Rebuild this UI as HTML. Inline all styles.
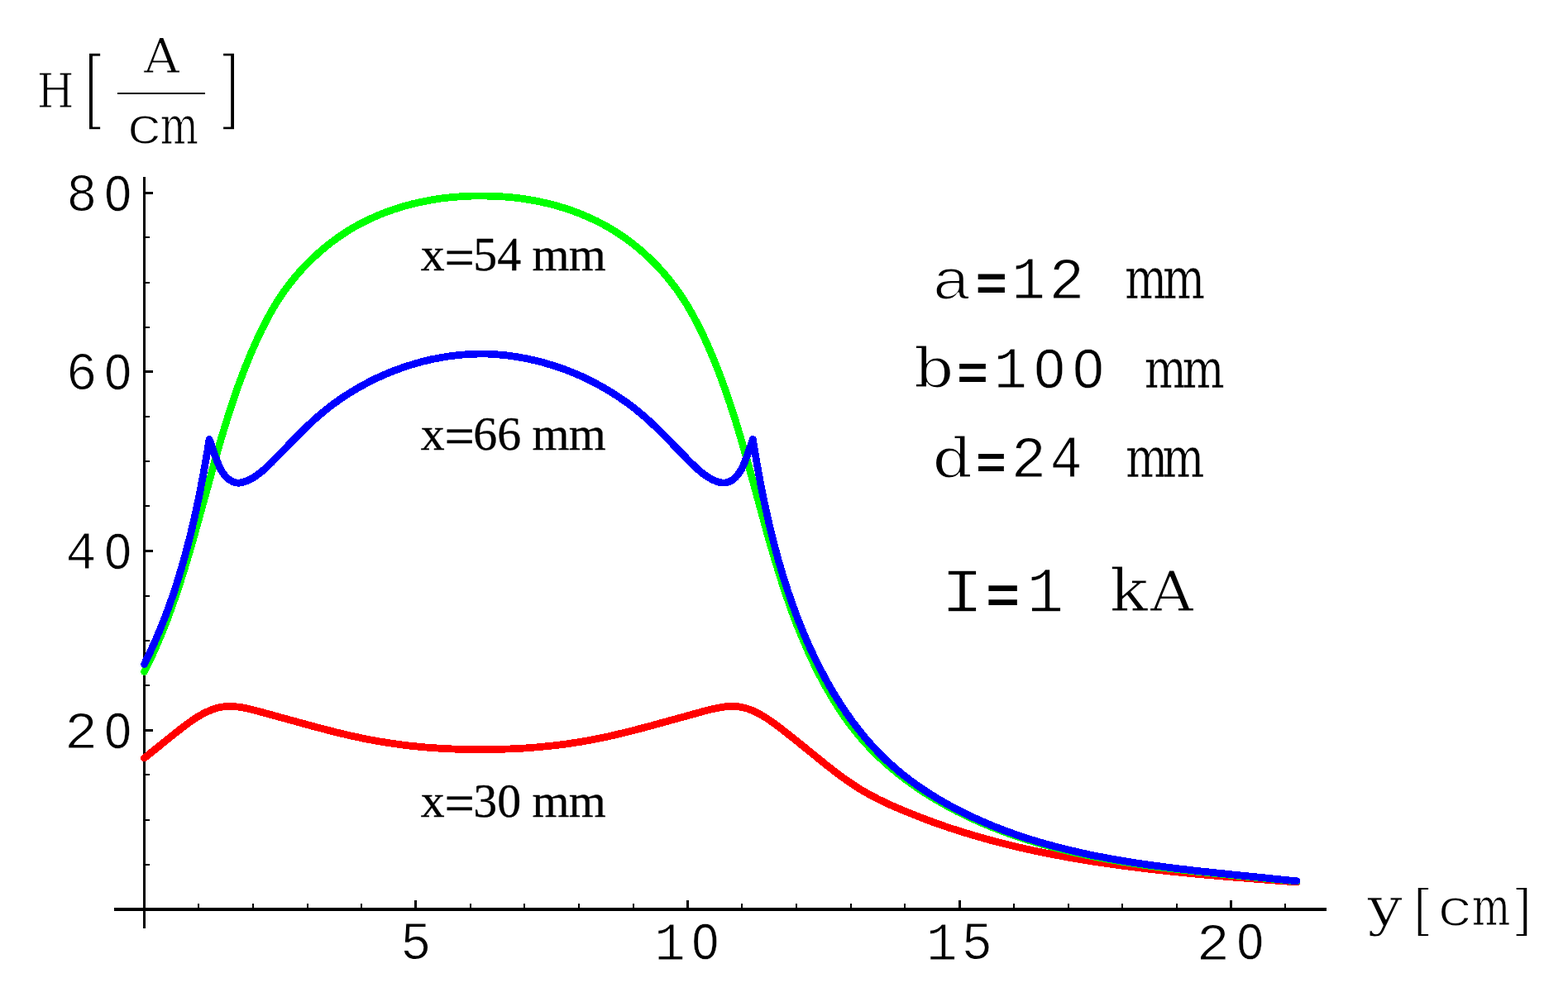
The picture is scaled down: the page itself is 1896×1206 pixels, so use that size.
<!DOCTYPE html>
<html lang="en">
<head>
<meta charset="utf-8">
<title>H field versus y</title>
<style>
html,body{margin:0;padding:0;background:#fff;}
body{width:1896px;height:1206px;overflow:hidden;}
svg{display:block;}
text{fill:#000;}
</style>
</head>
<body>
<svg width="1896" height="1206" viewBox="0 0 1896 1206">
<rect width="1896" height="1206" fill="#fff"/>
<g stroke="#000" fill="none" shape-rendering="crispEdges">
<line x1="138" y1="1100" x2="1604" y2="1100" stroke-width="4"/>
<line x1="174.5" y1="214" x2="174.5" y2="1123" stroke-width="3"/>
<path d="M502.5 1089V1100M831.5 1089V1100M1160.5 1089V1100M1488.5 1089V1100M174.5 883.5H185M174.5 666.5H185M174.5 449.5H185M174.5 233.5H185" stroke-width="3"/>
<path d="M240 1093V1100M306 1093V1100M372 1093V1100M437 1093V1100M569 1093V1100M634 1093V1100M700 1093V1100M766 1093V1100M897 1093V1100M963 1093V1100M1029 1093V1100M1094 1093V1100M1226 1093V1100M1292 1093V1100M1357 1093V1100M1423 1093V1100M1554 1093V1100M174.5 1046H181M174.5 992H181M174.5 937H181M174.5 829H181M174.5 775H181M174.5 721H181M174.5 612H181M174.5 558H181M174.5 504H181M174.5 396H181M174.5 342H181M174.5 287H181" stroke-width="2"/>
</g>
<g fill="none" stroke-width="8.8" stroke-linecap="round" stroke-linejoin="round" shape-rendering="crispEdges">
<path stroke="#f00" d="M174.5 917.0L209.1 889.1L223.1 878.1L231.9 871.8L239.0 867.1L245.1 863.6L250.7 860.8L256.3 858.5L261.4 856.7L266.6 855.5L271.2 854.7L275.8 854.4L281.1 854.4L287.2 855.0L294.0 856.0L302.3 857.8L318.0 861.9L383.9 880.0L407.3 886.0L426.7 890.6L444.2 894.2L461.2 897.3L478.3 899.9L495.5 902.1L513.4 903.9L531.5 905.2L549.6 906.1L568.4 906.5L596.4 906.5L615.2 906.0L633.3 905.1L651.3 903.7L669.3 901.9L686.5 899.7L703.6 897.1L720.5 894.0L738.0 890.3L758.1 885.5L782.1 879.3L851.5 860.2L863.2 857.3L871.4 855.7L878.2 854.7L883.6 854.4L888.9 854.5L893.6 854.9L898.1 855.7L903.3 857.1L908.4 858.9L914.0 861.4L920.1 864.6L926.8 868.7L934.5 873.9L944.3 881.2L964.1 896.9L1000.9 926.7L1014.1 936.9L1025.4 945.0L1035.2 951.6L1044.7 957.4L1053.8 962.5L1064.4 967.9L1077.6 974.1L1094.2 981.2L1111.6 988.2L1129.1 994.8L1147.4 1001.2L1166.5 1007.3L1185.8 1013.0L1205.8 1018.5L1226.6 1023.7L1248.3 1028.6L1271.4 1033.3L1295.3 1037.8L1320.6 1042.0L1347.5 1045.9L1376.5 1049.7L1407.6 1053.3L1443.0 1056.9L1484.5 1060.6L1544.6 1065.3L1568.0 1067.0"/>
<path stroke="#0f0" d="M174.5 812.6L181.8 797.7L188.9 782.1L195.6 766.3L202.3 749.4L209.1 730.7L215.9 710.8L223.1 688.1L230.8 662.5L240.3 628.4L259.8 557.4L268.2 528.0L275.8 503.3L282.6 482.4L289.2 463.5L296.0 445.6L302.8 428.8L309.7 413.1L316.2 399.3L322.7 386.5L328.7 375.6L334.6 365.8L340.9 356.1L347.6 346.8L354.7 337.7L362.2 328.9L369.3 321.1L376.8 313.7L384.5 306.5L392.5 299.6L400.7 293.1L409.2 286.9L417.9 281.0L426.8 275.5L435.9 270.5L445.3 265.8L454.8 261.5L465.3 257.2L476.1 253.3L487.0 249.9L498.0 246.9L509.2 244.3L520.4 242.1L532.8 240.1L545.2 238.7L557.6 237.7L570.1 237.1L584.6 237.0L597.1 237.3L609.6 238.0L622.1 239.1L634.4 240.7L646.7 242.8L658.0 245.1L669.1 247.8L680.1 251.0L690.9 254.5L701.6 258.5L711.2 262.6L720.7 267.0L730.0 271.8L739.1 277.0L747.9 282.6L756.6 288.5L765.0 294.8L773.2 301.4L781.1 308.4L788.7 315.7L796.1 323.2L803.8 331.8L811.1 340.7L818.1 349.9L824.6 359.3L830.8 369.0L837.0 379.8L843.3 391.6L849.7 404.4L856.4 419.2L863.2 435.0L869.8 451.9L876.4 469.8L883.2 489.6L890.2 511.5L897.8 537.1L907.2 570.3L927.1 643.2L935.6 672.6L943.1 697.2L950.2 719.0L956.8 737.8L963.5 755.7L970.4 772.4L977.2 788.2L984.1 802.9L991.4 817.5L998.7 831.0L1005.9 843.5L1013.1 855.0L1020.5 866.2L1027.8 876.3L1035.5 886.1L1042.8 894.9L1050.5 903.3L1059.1 912.2L1068.1 920.7L1077.4 928.8L1086.9 936.7L1097.5 944.8L1108.4 952.5L1119.5 959.9L1131.7 967.4L1144.2 974.5L1156.9 981.3L1170.6 988.0L1184.6 994.4L1198.7 1000.3L1213.9 1006.2L1229.1 1011.6L1245.5 1016.9L1261.9 1021.7L1279.4 1026.4L1297.9 1030.9L1317.5 1035.1L1338.2 1039.1L1359.9 1042.8L1383.6 1046.4L1410.2 1050.0L1440.7 1053.5L1480.8 1057.7L1563.3 1065.6L1568.0 1066.1"/>
<path stroke="#00f" d="M174.5 803.5L181.6 788.7L188.7 773.0L195.3 757.2L201.8 740.6L208.0 723.2L214.0 705.1L219.7 686.2L225.2 666.6L230.6 645.6L235.8 623.3L240.9 599.6L245.8 574.0L250.8 545.7L253.1 531.3L259.5 549.8L263.4 560.0L266.1 566.2L268.4 570.4L270.9 573.9L273.5 576.9L276.1 579.3L279.0 581.3L281.8 582.8L284.5 583.6L287.0 584.1L289.6 584.1L292.5 583.6L296.2 582.6L300.8 580.7L305.4 578.3L310.2 575.2L315.2 571.5L320.8 566.6L328.6 559.2L345.3 542.0L363.1 523.8L374.1 513.1L383.6 504.4L392.8 496.7L402.3 489.3L412.1 482.3L422.2 475.7L432.5 469.5L443.0 463.7L453.8 458.2L464.8 453.2L475.9 448.6L487.2 444.5L498.7 440.8L510.2 437.5L521.9 434.7L533.4 432.5L545.0 430.6L556.7 429.3L568.3 428.4L579.8 428.0L589.6 428.1L601.0 428.8L612.7 429.9L624.3 431.5L635.9 433.6L647.6 436.1L659.2 439.2L670.7 442.7L682.1 446.6L693.3 451.0L704.4 455.8L715.2 461.0L725.9 466.7L736.3 472.7L746.5 479.1L756.4 485.9L766.1 493.1L775.4 500.7L784.5 508.6L794.6 518.2L807.4 531.0L833.1 557.4L841.6 565.7L847.3 570.8L852.5 574.8L857.3 577.9L861.8 580.3L866.4 582.3L870.1 583.4L873.3 584.0L875.9 584.1L878.4 583.8L881.1 582.9L884.0 581.6L886.6 579.8L889.3 577.5L892.0 574.5L894.5 571.1L896.8 567.2L899.3 561.8L903.1 552.1L908.2 537.6L910.3 531.3L915.0 559.5L919.9 586.5L924.9 610.8L930.0 633.9L935.3 655.5L940.7 675.8L946.4 695.4L952.4 714.2L958.4 731.6L964.8 748.9L971.5 765.4L978.3 781.2L985.3 796.2L992.8 811.1L1000.4 825.2L1008.0 838.5L1015.8 851.0L1023.6 862.7L1031.3 873.6L1039.5 884.2L1047.5 894.1L1056.0 903.6L1064.3 912.3L1072.9 920.7L1081.9 928.7L1091.1 936.5L1101.2 944.3L1111.5 951.7L1122.6 959.1L1134.0 966.2L1146.2 973.2L1159.1 980.2L1172.3 986.7L1186.2 993.0L1200.8 999.2L1215.6 1005.0L1231.1 1010.5L1247.4 1015.8L1264.4 1020.9L1282.2 1025.6L1300.8 1030.1L1320.7 1034.5L1342.0 1038.6L1364.7 1042.5L1389.4 1046.2L1417.4 1049.9L1449.8 1053.7L1495.6 1058.5L1563.0 1065.3L1568.0 1065.8"/>
</g>
<g>
<text font-family="'Liberation Mono', monospace" stroke-linejoin="round"><tspan x="80.37" y="254.85" font-size="64.8" textLength="37.23" lengthAdjust="spacingAndGlyphs" stroke="#fff" stroke-width="1">8</tspan><tspan x="126.45" y="254.59" font-size="61.3" font-family="'Liberation Sans', sans-serif" textLength="32.11" lengthAdjust="spacingAndGlyphs" stroke="#fff" stroke-width="0.4">0</tspan></text>
<text font-family="'Liberation Mono', monospace" stroke-linejoin="round"><tspan x="79.73" y="470.85" font-size="64.8" textLength="37.88" lengthAdjust="spacingAndGlyphs" stroke="#fff" stroke-width="1">6</tspan><tspan x="126.45" y="470.59" font-size="61.3" font-family="'Liberation Sans', sans-serif" textLength="32.11" lengthAdjust="spacingAndGlyphs" stroke="#fff" stroke-width="0.4">0</tspan></text>
<text font-family="'Liberation Mono', monospace" stroke-linejoin="round"><tspan x="79.39" y="687.6" font-size="64.49" textLength="37.28" lengthAdjust="spacingAndGlyphs" stroke="#fff" stroke-width="1">4</tspan><tspan x="126.45" y="687.59" font-size="61.3" font-family="'Liberation Sans', sans-serif" textLength="32.11" lengthAdjust="spacingAndGlyphs" stroke="#fff" stroke-width="0.4">0</tspan></text>
<text font-family="'Liberation Mono', monospace" stroke-linejoin="round"><tspan x="78.12" y="904.6" font-size="63.53" textLength="40.14" lengthAdjust="spacingAndGlyphs" stroke="#fff" stroke-width="1">2</tspan><tspan x="126.45" y="904.59" font-size="61.3" font-family="'Liberation Sans', sans-serif" textLength="32.11" lengthAdjust="spacingAndGlyphs" stroke="#fff" stroke-width="0.4">0</tspan></text>
<text font-family="'Liberation Mono', monospace" stroke-linejoin="round"><tspan x="484.29" y="1160.06" font-size="64.13" textLength="37.22" lengthAdjust="spacingAndGlyphs" stroke="#fff" stroke-width="1">5</tspan></text>
<text font-family="'Liberation Mono', monospace" stroke-linejoin="round"><tspan x="791.3" y="1160.5" font-size="64.8" textLength="37.51" lengthAdjust="spacingAndGlyphs" stroke="#fff" stroke-width="1">1</tspan><tspan x="836.76" y="1160.48" font-size="61.58" font-family="'Liberation Sans', sans-serif" textLength="32" lengthAdjust="spacingAndGlyphs" stroke="#fff" stroke-width="0.4">0</tspan></text>
<text font-family="'Liberation Mono', monospace" stroke-linejoin="round"><tspan x="1119.9" y="1160.5" font-size="64.8" textLength="37.51" lengthAdjust="spacingAndGlyphs" stroke="#fff" stroke-width="1">1</tspan><tspan x="1162.69" y="1160.06" font-size="64.13" textLength="37.22" lengthAdjust="spacingAndGlyphs" stroke="#fff" stroke-width="1">5</tspan></text>
<text font-family="'Liberation Mono', monospace" stroke-linejoin="round"><tspan x="1446.82" y="1160.5" font-size="63.83" textLength="40.14" lengthAdjust="spacingAndGlyphs" stroke="#fff" stroke-width="1">2</tspan><tspan x="1495.86" y="1160.48" font-size="61.58" font-family="'Liberation Sans', sans-serif" textLength="31.88" lengthAdjust="spacingAndGlyphs" stroke="#fff" stroke-width="0.4">0</tspan></text>
</g>
<g>
<text font-family="'DejaVu Serif', serif" stroke-linejoin="round"><tspan x="1653.62" y="1118.78" font-size="63.16" textLength="42.3" lengthAdjust="spacingAndGlyphs" stroke="#fff" stroke-width="1">y</tspan></text>
<text transform="matrix(0.7425 0 0 0.6448 1708.34 1119.92)" font-family="'Liberation Sans', sans-serif" font-size="100" stroke="#fff" stroke-width="3.2" stroke-linejoin="miter">[</text>
<text font-family="'DejaVu Serif', serif" stroke-linejoin="round"><tspan x="1737.19" y="1119.64" font-size="65.51" font-family="'Liberation Mono', monospace" textLength="44.88" lengthAdjust="spacingAndGlyphs" stroke="#fff" stroke-width="2">c</tspan><tspan x="1779.63" y="1118.9" font-size="63.79" textLength="46.61" lengthAdjust="spacingAndGlyphs" stroke="#fff" stroke-width="1">m</tspan></text>
<text transform="matrix(0.7605 0 0 0.6448 1831.87 1119.92)" font-family="'Liberation Sans', sans-serif" font-size="100" stroke="#fff" stroke-width="3.2" stroke-linejoin="miter">]</text>
<text font-family="'DejaVu Serif', serif" stroke-linejoin="round"><tspan x="44.67" y="129.7" font-size="57.48" textLength="44.86" lengthAdjust="spacingAndGlyphs" stroke="#fff" stroke-width="1">H</tspan></text>
<text transform="matrix(0.8098 0 0 1.0123 100.79 136.57)" font-family="'Liberation Sans', sans-serif" font-size="100" stroke="#fff" stroke-width="3.6" stroke-linejoin="miter">[</text>
<text font-family="'DejaVu Serif', serif" stroke-linejoin="round"><tspan x="174.06" y="87.5" font-size="57.34" textLength="42.86" lengthAdjust="spacingAndGlyphs" stroke="#fff" stroke-width="1">A</tspan></text>
<line x1="142" y1="112.8" x2="248" y2="112.8" stroke="#000" stroke-width="2.6" shape-rendering="crispEdges"/>
<text font-family="'DejaVu Serif', serif" stroke-linejoin="round"><tspan x="152.21" y="173.75" font-size="64.6" font-family="'Liberation Mono', monospace" textLength="45.65" lengthAdjust="spacingAndGlyphs" stroke="#fff" stroke-width="2">c</tspan><tspan x="193.53" y="173.5" font-size="63.79" textLength="46.61" lengthAdjust="spacingAndGlyphs" stroke="#fff" stroke-width="1">m</tspan></text>
<text transform="matrix(0.7975 0 0 1.0123 267.93 136.57)" font-family="'Liberation Sans', sans-serif" font-size="100" stroke="#fff" stroke-width="3.6" stroke-linejoin="miter">]</text>
</g>
<g>
<text font-family="'Liberation Mono', monospace" stroke-linejoin="round"><tspan x="1126.61" y="361.5" font-size="70.07" textLength="48.44" lengthAdjust="spacingAndGlyphs" stroke="#fff" stroke-width="2">a</tspan><tspan x="1179.55" y="362" font-size="58.47" font-family="'Liberation Mono', monospace" font-weight="bold" textLength="38.61" lengthAdjust="spacingAndGlyphs">=</tspan><tspan x="1223.31" y="361" font-size="71.47" textLength="40.76" lengthAdjust="spacingAndGlyphs" stroke="#fff" stroke-width="1">1</tspan><tspan x="1268.51" y="361" font-size="70.4" textLength="42.75" lengthAdjust="spacingAndGlyphs" stroke="#fff" stroke-width="1">2</tspan> <tspan x="1360.01" y="360.95" font-size="68.29" font-family="'DejaVu Serif', serif" textLength="51.22" lengthAdjust="spacingAndGlyphs" stroke="#fff" stroke-width="0.5">m</tspan><tspan x="1406.01" y="360.95" font-size="68.29" font-family="'DejaVu Serif', serif" textLength="51.22" lengthAdjust="spacingAndGlyphs" stroke="#fff" stroke-width="0.5">m</tspan></text>
<text font-family="'Liberation Mono', monospace" stroke-linejoin="round"><tspan x="1105.33" y="468.39" font-size="64.73" font-family="'DejaVu Serif', serif" textLength="47.92" lengthAdjust="spacingAndGlyphs" stroke="#fff" stroke-width="1">b</tspan><tspan x="1156.9" y="470.19" font-size="57.67" font-family="'Liberation Mono', monospace" font-weight="bold" textLength="38.01" lengthAdjust="spacingAndGlyphs">=</tspan><tspan x="1201.67" y="468.6" font-size="71.17" textLength="40.26" lengthAdjust="spacingAndGlyphs" stroke="#fff" stroke-width="1">1</tspan><tspan x="1250.84" y="468.52" font-size="67.51" font-family="'Liberation Sans', sans-serif" textLength="36.53" lengthAdjust="spacingAndGlyphs" stroke="#fff" stroke-width="0.4">0</tspan><tspan x="1297.62" y="468.52" font-size="67.51" font-family="'Liberation Sans', sans-serif" textLength="36.77" lengthAdjust="spacingAndGlyphs" stroke="#fff" stroke-width="0.4">0</tspan> <tspan x="1383.71" y="468.55" font-size="66.23" font-family="'DejaVu Serif', serif" textLength="51.22" lengthAdjust="spacingAndGlyphs" stroke="#fff" stroke-width="0.5">m</tspan><tspan x="1429.61" y="468.55" font-size="66.23" font-family="'DejaVu Serif', serif" textLength="51.22" lengthAdjust="spacingAndGlyphs" stroke="#fff" stroke-width="0.5">m</tspan></text>
<text font-family="'Liberation Mono', monospace" stroke-linejoin="round"><tspan x="1127.66" y="576.59" font-size="65.12" font-family="'DejaVu Serif', serif" textLength="47.92" lengthAdjust="spacingAndGlyphs" stroke="#fff" stroke-width="1">d</tspan><tspan x="1179.98" y="577.53" font-size="55.82" font-family="'Liberation Mono', monospace" font-weight="bold" textLength="36.94" lengthAdjust="spacingAndGlyphs">=</tspan><tspan x="1222.87" y="576.9" font-size="70.55" stroke="#fff" stroke-width="1">2</tspan><tspan x="1269.86" y="576.9" font-size="71.62" textLength="38.84" lengthAdjust="spacingAndGlyphs" stroke="#fff" stroke-width="1">4</tspan> <tspan x="1360.91" y="576.75" font-size="67.54" font-family="'DejaVu Serif', serif" textLength="51.22" lengthAdjust="spacingAndGlyphs" stroke="#fff" stroke-width="0.5">m</tspan><tspan x="1405.21" y="576.75" font-size="67.54" font-family="'DejaVu Serif', serif" textLength="51.22" lengthAdjust="spacingAndGlyphs" stroke="#fff" stroke-width="0.5">m</tspan></text>
<text font-family="'Liberation Mono', monospace" stroke-linejoin="round"><tspan x="1137.51" y="739.6" font-size="76.02" textLength="52.08" lengthAdjust="spacingAndGlyphs" stroke="#fff" stroke-width="1.4">I</tspan><tspan x="1192.13" y="741.44" font-size="62.96" font-family="'Liberation Mono', monospace" font-weight="bold" textLength="41.24" lengthAdjust="spacingAndGlyphs">=</tspan><tspan x="1241.62" y="739.6" font-size="77.39" textLength="44.88" lengthAdjust="spacingAndGlyphs" stroke="#fff" stroke-width="1.4">1</tspan> <tspan x="1342.01" y="739.4" font-size="70.26" font-family="'DejaVu Serif', serif" textLength="45.86" lengthAdjust="spacingAndGlyphs" stroke="#fff" stroke-width="1">k</tspan><tspan x="1391.03" y="739.4" font-size="68.18" font-family="'DejaVu Serif', serif" textLength="51.67" lengthAdjust="spacingAndGlyphs" stroke="#fff" stroke-width="1">A</tspan></text>
</g>
<g font-family="'Liberation Serif', serif" font-size="57.8" stroke="#000" stroke-width="0.3">
<text y="327"><tspan x="508.8">x</tspan><tspan x="537.5" dy="6.6" font-size="64.5">=</tspan><tspan x="572.3 601.2" dy="-6.6">54</tspan> <tspan x="643.6 687.7">mm</tspan></text>
<text y="543.7"><tspan x="508.8">x</tspan><tspan x="537.5" dy="6.6" font-size="64.5">=</tspan><tspan x="572.3 601.2" dy="-6.6">66</tspan> <tspan x="643.6 687.7">mm</tspan></text>
<text y="987.8"><tspan x="508.8">x</tspan><tspan x="537.5" dy="6.6" font-size="64.5">=</tspan><tspan x="572.3 601.2" dy="-6.6">30</tspan> <tspan x="643.6 687.7">mm</tspan></text>
</g>
</svg>
</body>
</html>
